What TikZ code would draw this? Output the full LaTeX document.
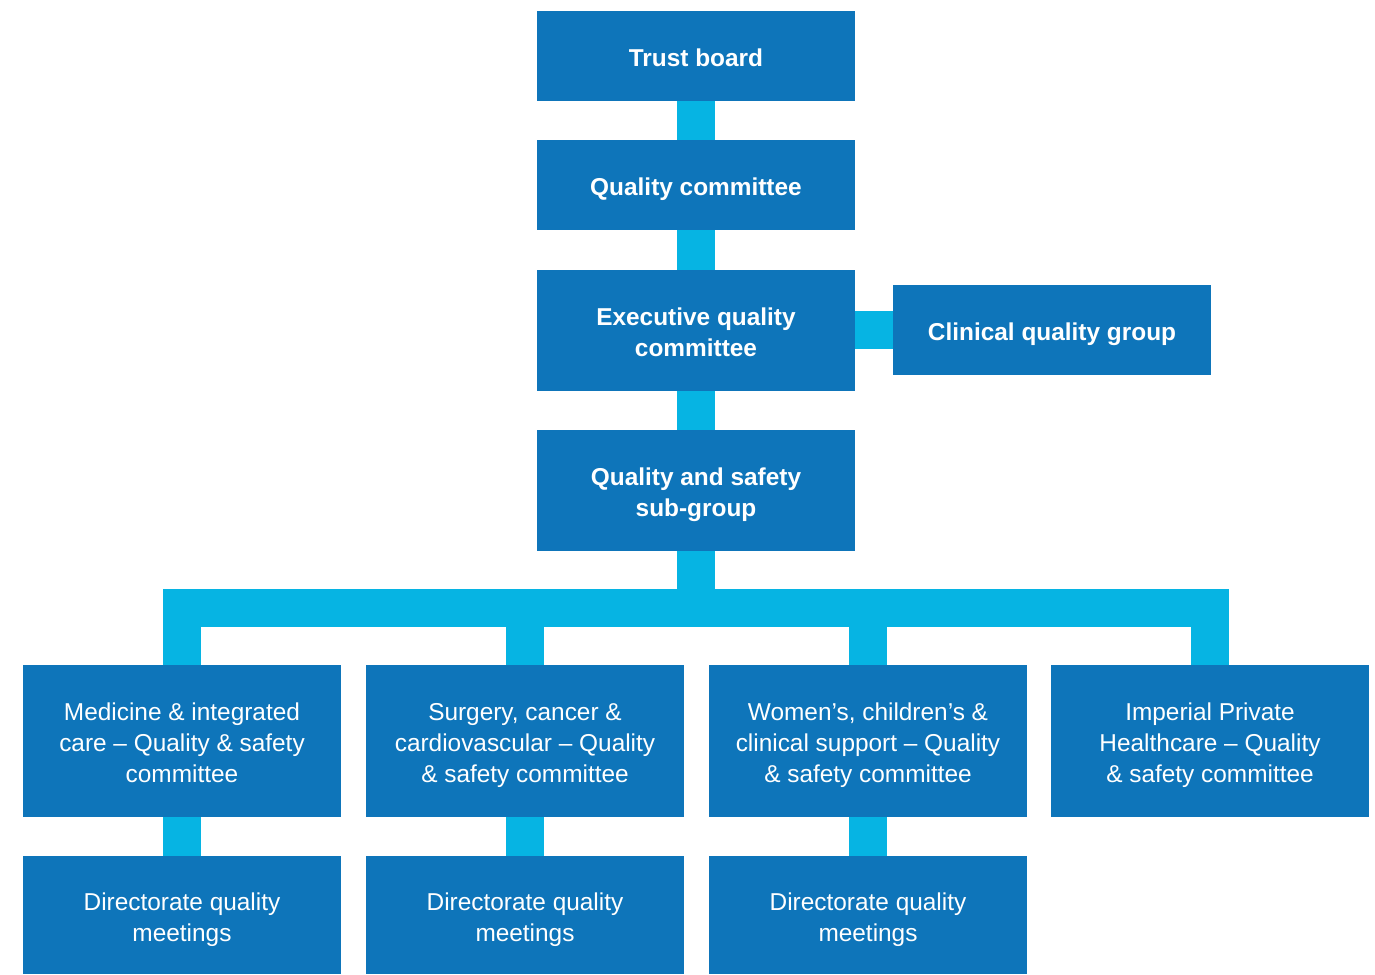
\documentclass[tikz,border=0pt]{standalone}
\usepackage{fontspec}
\setmainfont{Liberation Sans}
\usetikzlibrary{positioning}
\definecolor{boxblue}{RGB}{14,117,186}
\definecolor{linkblue}{RGB}{6,180,227}
\tikzstyle{box}=[fill=boxblue, text=white, inner sep=0, align=center,
		minimum width=159pt, text depth=0pt, text height=10.7pt,
		font=\fontsize{12.2}{15.5}\selectfont]
\tikzstyle{hd}=[box, font=\fontsize{12.2}{15.5}\selectfont\bfseries]
\tikzstyle{two}=[text height=26.2pt]
\tikzstyle{three}=[text height=41.7pt]
\tikzstyle{link}=[draw=linkblue, line width=19pt]

\begin{document}
\begin{tikzpicture}[x=0.5pt, y=-0.5pt]
                \useasboundingbox (0,0) rectangle (1375,974);
                \node[hd, minimum height=45pt] (trust) at (696,56) {Trust board};
                \node[hd, minimum height=45pt] (qc) at (696,185) {Quality committee};
                \node[hd, two, minimum height=60.5pt] (eqc) at (696,330.5) {Executive quality\\committee};
                \node[hd, minimum height=45pt] (cqg) at (1052,330) {Clinical quality group};
                \node[hd, two, minimum height=60.5pt] (qss) at (696,490.5) {Quality and safety\\sub-group};
                \node[box, three, minimum height=76pt] (med) at (182,741) {Medicine \& integrated\\care -- Quality \& safety\\committee};
                \node[box, three, minimum height=76pt] (sur) at (525,741) {Surgery, cancer \&\\cardiovascular -- Quality\\\& safety committee};
                \node[box, three, minimum height=76pt] (wom) at (868,741) {Women’s, children’s \&\\clinical support -- Quality\\\& safety committee};
                \node[box, three, minimum height=76pt] (iph) at (1210,741) {Imperial Private\\Healthcare -- Quality\\\& safety committee};
                \node[box, two, minimum height=59pt] (dir1) at (182,915) {Directorate quality\\meetings};
                \node[box, two, minimum height=59pt] (dir2) at (525,915) {Directorate quality\\meetings};
                \node[box, two, minimum height=59pt] (dir3) at (868,915) {Directorate quality\\meetings};
                \coordinate (bar) at (696,608);
                \path[link] (trust.south) -- (qc.north);
                \path[link] (qc.south) -- (eqc.north);
                \path[link] (eqc.east |- cqg) -- (cqg.west);
                \path[link] (eqc.south) -- (qss.north);
                \path[link] (qss.south) -- (bar);
                \path[link] (med.north) -- (med.north |- bar) -- (iph.north |- bar) -- (iph.north);
                \path[link] (sur.north) -- (sur.north |- bar);
                \path[link] (wom.north) -- (wom.north |- bar);
                \path[link] (med.south) -- (dir1.north);
                \path[link] (sur.south) -- (dir2.north);
                \path[link] (wom.south) -- (dir3.north);
            \end{tikzpicture}
\end{document}
